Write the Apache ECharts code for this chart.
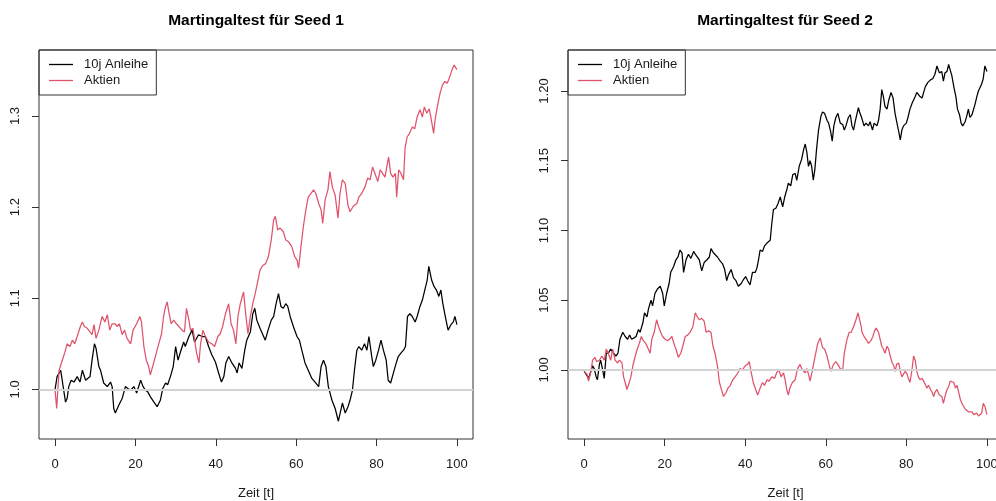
<!DOCTYPE html>
<html>
<head>
<meta charset="utf-8">
<script src="https://cdn.jsdelivr.net/npm/echarts@6/dist/echarts.min.js"></script>
<style>html,body{margin:0;padding:0;background:#fff}#c{width:996px;height:501px}</style>
</head>
<body>
<div id="c"></div>
<script>
// ---- Seed 1 ----
const s1AnleiheT = [0,0.5,1.4,2.6,3.0,3.4,4.0,4.7,5.5,6.2,6.8,7.2,7.6,8.0,8.7,9.2,9.8,10.2,10.9,11.3,12.1,13.0,13.8,14.2,14.6,15.0,15.9,16.7,17.5,18.1,18.8,19.6,20.3,21.3,21.9,22.5,23.1,23.7,24.6,25.4,26.2,26.8,27.5,28.0,28.7,29.4,30.0,30.6,31.2,32.0,32.4,33.3,34.1,34.7,35.7,36.6,37.4,38.2,39.0,39.9,40.7,41.4,42.0,42.5,43.2,44.0,44.9,45.3,45.8,46.5,47.2,47.7,48.6,49.2,49.7,50.2,51.0,51.9,52.3,53.0,53.8,54.4,55.0,55.6,56.2,56.8,57.4,57.9,58.5,59.3,60.2,60.8,61.4,62.2,63.0,63.9,64.7,65.6,66.2,66.8,67.4,68.0,68.9,69.7,70.5,70.9,71.5,72.2,72.9,73.4,74.0,74.5,75.1,75.6,76.3,77.0,77.6,78.1,78.8,79.2,79.8,80.5,81.1,81.7,82.4,82.9,83.5,84.2,84.9,85.4,86.1,86.7,87.2,87.7,88.3,88.9,89.6,90.1,90.8,91.4,92.0,92.6,93.0,93.7,94.3,94.9,95.5,96.0,96.5,97.1,97.8,98.5,99.1,99.5,100];
const s1AnleiheV = [1.000,1.014,1.021,0.986,0.990,1.003,1.010,1.008,1.014,1.008,1.021,1.023,1.010,1.008,1.014,1.032,1.050,1.045,1.025,1.021,1.007,1.003,1.008,1.003,0.979,0.974,0.983,0.990,1.003,1.001,0.999,1.003,0.996,1.010,1.003,0.999,0.997,0.992,0.986,0.981,0.988,1.001,1.007,1.005,1.014,1.025,1.047,1.032,1.041,1.052,1.047,1.058,1.065,1.052,1.060,1.058,1.058,1.047,1.038,1.030,1.018,1.008,1.014,1.029,1.036,1.029,1.023,1.018,1.029,1.023,1.043,1.054,1.063,1.083,1.089,1.076,1.067,1.058,1.054,1.065,1.076,1.080,1.094,1.105,1.091,1.089,1.094,1.091,1.080,1.069,1.058,1.054,1.043,1.029,1.021,1.012,1.008,1.003,1.025,1.032,1.025,1.003,0.988,0.979,0.965,0.963,0.985,0.974,0.981,0.988,0.999,1.021,1.043,1.047,1.043,1.050,1.043,1.058,1.036,1.025,1.032,1.043,1.054,1.043,1.032,1.010,1.007,1.018,1.029,1.036,1.040,1.043,1.047,1.080,1.083,1.080,1.074,1.080,1.091,1.098,1.109,1.120,1.135,1.120,1.113,1.109,1.102,1.109,1.094,1.080,1.065,1.071,1.074,1.080,1.071];

const s1AktienT = [0,0.4,1.0,1.8,2.4,3.0,3.7,4.3,4.9,5.5,6.3,6.8,7.3,8.0,8.7,9.2,9.7,10.2,10.9,11.7,12.4,13.0,13.6,14.2,14.9,15.5,16.0,16.7,17.3,17.9,18.8,19.4,20.3,21.1,21.5,22.1,22.7,23.3,23.7,24.4,25.2,25.8,26.5,27.0,27.5,27.9,28.3,28.9,29.5,30.2,30.8,31.6,32.2,32.7,33.3,33.7,34.3,35.2,35.8,36.2,36.8,37.4,38.2,39.0,39.7,40.5,41.1,41.7,42.4,43.2,43.8,44.4,45.0,45.5,46.1,46.9,47.5,48.0,48.6,49.2,49.8,50.5,51.0,51.7,52.4,53.1,53.8,54.4,54.8,55.4,56.0,56.8,57.4,58.1,58.9,59.6,60.2,60.6,61.2,61.8,62.4,63.0,63.7,64.3,64.9,65.6,66.2,66.6,67.2,67.9,68.4,69.0,69.7,70.4,70.9,71.5,72.2,72.9,73.4,74.2,75.1,75.6,76.3,77.1,77.8,78.4,79.0,79.6,80.3,80.9,81.5,82.1,82.7,83.0,83.5,84.1,84.7,85.0,85.5,86.1,86.7,87.1,87.6,88.2,88.9,89.5,90.1,90.8,91.4,91.9,92.5,93.1,93.5,94.2,94.6,95.2,95.8,96.4,97.0,97.6,98.2,98.8,99.3,100];
const s1AktienV = [0.999,0.979,1.021,1.032,1.040,1.050,1.047,1.054,1.050,1.058,1.069,1.074,1.069,1.067,1.063,1.060,1.071,1.056,1.065,1.080,1.074,1.082,1.065,1.072,1.072,1.069,1.072,1.060,1.065,1.056,1.050,1.065,1.072,1.080,1.074,1.047,1.032,1.025,1.016,1.027,1.040,1.050,1.061,1.080,1.091,1.096,1.085,1.072,1.076,1.072,1.069,1.065,1.063,1.089,1.076,1.065,1.067,1.040,1.029,1.050,1.065,1.058,1.052,1.050,1.047,1.058,1.061,1.069,1.083,1.094,1.072,1.065,1.050,1.080,1.094,1.107,1.080,1.061,1.080,1.094,1.105,1.120,1.131,1.136,1.138,1.146,1.164,1.186,1.190,1.175,1.177,1.173,1.164,1.162,1.157,1.146,1.142,1.133,1.157,1.179,1.197,1.211,1.215,1.219,1.215,1.204,1.197,1.182,1.208,1.219,1.239,1.222,1.213,1.188,1.215,1.230,1.226,1.202,1.195,1.201,1.204,1.211,1.215,1.222,1.232,1.230,1.244,1.237,1.228,1.241,1.237,1.233,1.248,1.255,1.237,1.233,1.237,1.211,1.241,1.237,1.230,1.265,1.277,1.281,1.288,1.286,1.299,1.307,1.299,1.310,1.303,1.308,1.299,1.281,1.297,1.312,1.325,1.334,1.338,1.336,1.343,1.351,1.356,1.351];

// ---- Seed 2 ----
const s2AnleiheT = [0,0.5,1.1,1.5,2.1,2.5,3.0,3.3,3.8,4.1,4.6,5.0,5.5,6.0,6.6,7.3,7.9,8.4,8.9,9.6,10.2,10.8,11.3,11.8,12.4,12.9,13.5,13.9,14.6,15.0,15.6,16.0,16.6,17.0,17.6,18.2,18.9,19.5,19.9,20.5,21.1,21.5,22.2,22.8,23.3,23.8,24.3,24.7,25.3,25.9,26.5,27.2,27.6,28.0,28.6,29.2,29.8,30.5,31.1,31.5,32.1,32.5,33.1,33.8,34.4,34.9,35.4,35.8,36.5,37.1,37.7,38.3,39.0,39.6,40.1,40.6,41.2,41.8,42.5,42.9,43.3,43.7,44.3,44.8,45.4,45.8,46.2,46.6,47.0,47.6,48.1,48.7,49.3,49.8,50.3,50.7,51.3,51.8,52.4,52.8,53.4,54.0,54.5,54.9,55.3,55.7,56.1,56.5,56.9,57.3,57.7,58.2,58.8,59.2,59.7,60.3,60.7,61.2,61.6,62.0,62.5,63.0,63.6,64.2,64.6,65.0,65.6,66.1,66.5,66.9,67.3,67.7,68.1,68.5,68.9,69.5,70.0,70.6,71.0,71.6,72.0,72.7,73.1,73.5,73.9,74.3,74.7,75.2,75.6,76.2,76.7,77.2,77.6,78.1,78.5,78.9,79.3,80.0,80.4,80.9,81.4,81.8,82.2,82.6,83.0,83.4,83.9,84.3,84.7,85.3,86.0,86.6,87.1,87.6,88.2,88.8,89.2,89.6,90.1,90.5,90.9,91.3,91.8,92.3,92.7,93.2,93.6,94.0,94.6,95.0,95.4,95.8,96.3,96.7,97.1,97.5,97.9,98.3,98.7,99.1,99.5,100];
const s2AnleiheV = [0.999,0.997,0.994,0.995,1.003,1.001,0.995,0.993,1.004,1.007,1.000,0.994,1.012,1.012,1.015,1.012,1.010,1.012,1.022,1.027,1.024,1.022,1.025,1.022,1.023,1.024,1.029,1.027,1.034,1.041,1.038,1.044,1.050,1.046,1.055,1.058,1.060,1.055,1.046,1.055,1.062,1.070,1.074,1.079,1.081,1.086,1.084,1.070,1.079,1.083,1.080,1.085,1.083,1.084,1.079,1.071,1.077,1.079,1.081,1.087,1.084,1.085,1.081,1.078,1.076,1.072,1.064,1.068,1.072,1.066,1.064,1.060,1.062,1.065,1.067,1.064,1.061,1.070,1.070,1.073,1.079,1.086,1.085,1.089,1.091,1.092,1.093,1.105,1.115,1.116,1.119,1.124,1.117,1.124,1.129,1.134,1.132,1.140,1.141,1.136,1.146,1.151,1.158,1.162,1.156,1.146,1.150,1.146,1.136,1.144,1.158,1.172,1.182,1.185,1.184,1.179,1.177,1.171,1.164,1.175,1.181,1.184,1.177,1.176,1.172,1.175,1.181,1.183,1.175,1.172,1.178,1.183,1.188,1.184,1.181,1.175,1.177,1.175,1.178,1.172,1.177,1.175,1.179,1.187,1.201,1.196,1.189,1.187,1.193,1.199,1.195,1.184,1.178,1.171,1.165,1.172,1.175,1.177,1.181,1.187,1.191,1.191,1.196,1.199,1.200,1.196,1.195,1.199,1.203,1.206,1.208,1.209,1.212,1.218,1.213,1.214,1.207,1.213,1.214,1.219,1.215,1.211,1.203,1.196,1.187,1.183,1.177,1.175,1.178,1.182,1.187,1.181,1.183,1.184,1.191,1.196,1.200,1.201,1.205,1.209,1.218,1.214];

const s2AktienT = [0,0.7,1.1,1.7,2.1,2.7,3.1,3.8,4.4,5.0,5.5,6.0,6.6,7.1,7.7,8.3,8.8,9.4,9.8,10.2,10.6,11.0,11.6,12.1,12.7,13.2,13.7,14.2,14.7,15.3,15.8,16.4,16.8,17.4,18.0,18.5,19.0,19.5,20.1,20.7,21.2,21.8,22.4,22.8,23.4,24.0,24.5,25.1,25.7,26.3,27.0,27.6,28.1,28.6,29.2,29.8,30.3,30.9,31.5,32.0,32.5,33.1,33.6,34.2,34.6,35.3,35.7,36.3,36.9,37.5,38.2,38.7,39.3,40.0,40.6,41.0,41.5,42.0,42.6,43.1,43.7,44.3,44.8,45.4,45.9,46.6,47.3,47.8,48.4,48.9,49.5,49.9,50.3,50.7,51.1,51.7,52.4,53.0,53.6,54.2,54.9,55.3,55.7,56.1,56.7,57.3,58.0,58.6,59.2,59.7,60.3,60.8,61.3,61.9,62.5,63.0,63.6,64.2,64.6,65.2,65.8,66.3,66.9,67.5,68.0,68.4,68.8,69.0,69.5,70.0,70.6,71.2,71.7,72.1,72.5,73.1,73.5,73.9,74.3,74.7,75.2,75.6,76.0,76.5,76.9,77.2,77.6,78.1,78.5,78.9,79.3,79.7,80.2,80.5,80.9,81.4,81.8,82.2,82.6,83.0,83.4,83.9,84.3,84.7,85.1,85.5,86.0,86.4,86.8,87.1,87.6,88.2,88.8,89.2,89.6,90.1,90.5,90.9,91.3,91.8,92.2,92.6,93.0,93.4,93.8,94.2,94.6,95.0,95.4,95.8,96.3,96.7,97.1,97.5,97.9,98.3,98.7,99.1,99.5,100];
const s2AktienV = [0.999,0.997,0.992,0.999,1.007,1.009,1.006,1.007,1.010,1.007,1.015,1.012,1.007,1.015,1.007,1.005,1.007,1.005,0.995,0.991,0.986,0.989,0.995,1.003,1.010,1.015,1.019,1.024,1.021,1.019,1.016,1.012,1.022,1.027,1.036,1.031,1.027,1.024,1.022,1.021,1.022,1.024,1.018,1.015,1.009,1.012,1.017,1.024,1.025,1.027,1.031,1.041,1.038,1.036,1.037,1.035,1.027,1.028,1.027,1.017,1.012,1.003,0.991,0.985,0.981,0.984,0.987,0.989,0.993,0.995,0.998,1.001,1.000,1.003,1.004,1.006,0.998,0.991,0.986,0.982,0.987,0.991,0.989,0.993,0.992,0.995,0.994,0.998,1.000,0.995,0.998,0.993,0.986,0.982,0.987,0.991,0.993,1.001,1.004,1.000,0.998,1.001,0.997,0.992,1.000,1.009,1.019,1.023,1.016,1.015,1.010,1.004,0.999,1.004,1.006,1.004,1.001,1.000,1.012,1.021,1.027,1.027,1.031,1.036,1.041,1.040,1.031,1.027,1.024,1.022,1.019,1.021,1.024,1.028,1.030,1.027,1.022,1.017,1.015,1.012,1.017,1.015,1.010,1.005,1.003,0.999,1.004,1.005,0.999,0.995,0.997,0.999,0.997,0.994,0.991,1.000,1.010,1.007,0.999,0.995,0.993,0.994,0.992,0.991,0.987,0.989,0.986,0.984,0.981,0.984,0.986,0.982,0.981,0.976,0.981,0.986,0.988,0.992,0.993,0.991,0.987,0.989,0.984,0.979,0.976,0.974,0.972,0.972,0.970,0.969,0.970,0.968,0.967,0.969,0.967,0.966,0.969,0.976,0.974,0.968];

const xTicks = [0,20,40,60,80,100];
const yTicks1 = [1.0,1.1,1.2,1.3];
const yTicks2 = [1.00,1.05,1.10,1.15,1.20];
const titles = ['Martingaltest für Seed 1','Martingaltest für Seed 2'];
const seriesNames = ['10j Anleihe','Aktien'];
const xName = 'Zeit [t]';

const BLACK = '#000000', RED = '#DF536B', FRAME = '#333333', TXT = '#1a1a1a';
const FONT = 'Liberation Sans, Arial, sans-serif';
const pairs = (ts, vs) => ts.map((t,i)=>[t,vs[i]]);

function xAxisCfg(gi){
  return {type:'value', gridIndex:gi, min:-4, max:104,
    name:xName, nameLocation:'middle', nameGap:48,
    nameTextStyle:{fontFamily:FONT,fontSize:13,color:TXT},
    axisLine:{show:false,onZero:false}, splitLine:{show:false},
    axisTick:{show:true,length:7,customValues:xTicks,lineStyle:{color:FRAME}},
    axisLabel:{customValues:xTicks,margin:19,fontFamily:FONT,fontSize:13,color:TXT}};
}
function yAxisCfg(gi,min,max,ticks,dec){
  return {type:'value', gridIndex:gi, min:min, max:max,
    axisLine:{show:false,onZero:false}, splitLine:{show:false},
    axisTick:{show:true,length:7,customValues:ticks,lineStyle:{color:FRAME}},
    axisLabel:{customValues:ticks,rotate:90,margin:17,fontFamily:FONT,fontSize:13,color:TXT,
      formatter:v=>Number(v).toFixed(dec)}};
}
function lineSeries(name,gi,ts,vs,color,withRef){
  const s = {type:'line', name:name, xAxisIndex:gi, yAxisIndex:gi, data:pairs(ts,vs),
    showSymbol:false, symbol:'none', animation:false,
    lineStyle:{color:color,width:1.25}, itemStyle:{color:color}};
  if(withRef){
    s.markLine = {silent:true, symbol:['none','none'], label:{show:false},
      lineStyle:{color:'#d3d3d3',width:2,type:'solid'}, data:[{yAxis:1}], animation:false};
  }
  return s;
}
function legendCfg(left){
  return {left:left, top:50, orient:'vertical', data:seriesNames,
    icon:'rect', itemWidth:24, itemHeight:1.3, itemGap:3,
    padding:[8,8,8,10], borderColor:FRAME, borderWidth:1, borderRadius:0,
    textStyle:{fontFamily:FONT,fontSize:13,color:TXT,padding:[0,0,0,6]},
    selectedMode:false};
}

const chart = echarts.init(document.getElementById('c'), null, {renderer:'canvas'});
chart.setOption({
  animation:false,
  backgroundColor:'#ffffff',
  title:[
    {text:titles[0], left:256, top:13, textAlign:'center', padding:0,
      textStyle:{fontFamily:FONT,fontSize:15.5,fontWeight:'bold',color:'#000'}},
    {text:titles[1], left:785, top:13, textAlign:'center', padding:0,
      textStyle:{fontFamily:FONT,fontSize:15.5,fontWeight:'bold',color:'#000'}}
  ],
  legend:[legendCfg(39), legendCfg(568)],
  grid:[
    {left:39, top:50, width:434, height:389, containLabel:false, outerBoundsMode:'none',
      show:true, borderColor:FRAME, borderWidth:1, backgroundColor:'transparent'},
    {left:568, top:50, width:435, height:389, containLabel:false, outerBoundsMode:'none',
      show:true, borderColor:FRAME, borderWidth:1, backgroundColor:'transparent'}
  ],
  xAxis:[xAxisCfg(0), xAxisCfg(1)],
  yAxis:[yAxisCfg(0,0.9455,1.3725,yTicks1,1), yAxisCfg(1,0.9505,1.2294,yTicks2,2)],
  series:[
    lineSeries(seriesNames[0],0,s1AnleiheT,s1AnleiheV,BLACK,true),
    lineSeries(seriesNames[1],0,s1AktienT,s1AktienV,RED,false),
    lineSeries(seriesNames[0],1,s2AnleiheT,s2AnleiheV,BLACK,true),
    lineSeries(seriesNames[1],1,s2AktienT,s2AktienV,RED,false)
  ]
});
</script>
</body>
</html>
